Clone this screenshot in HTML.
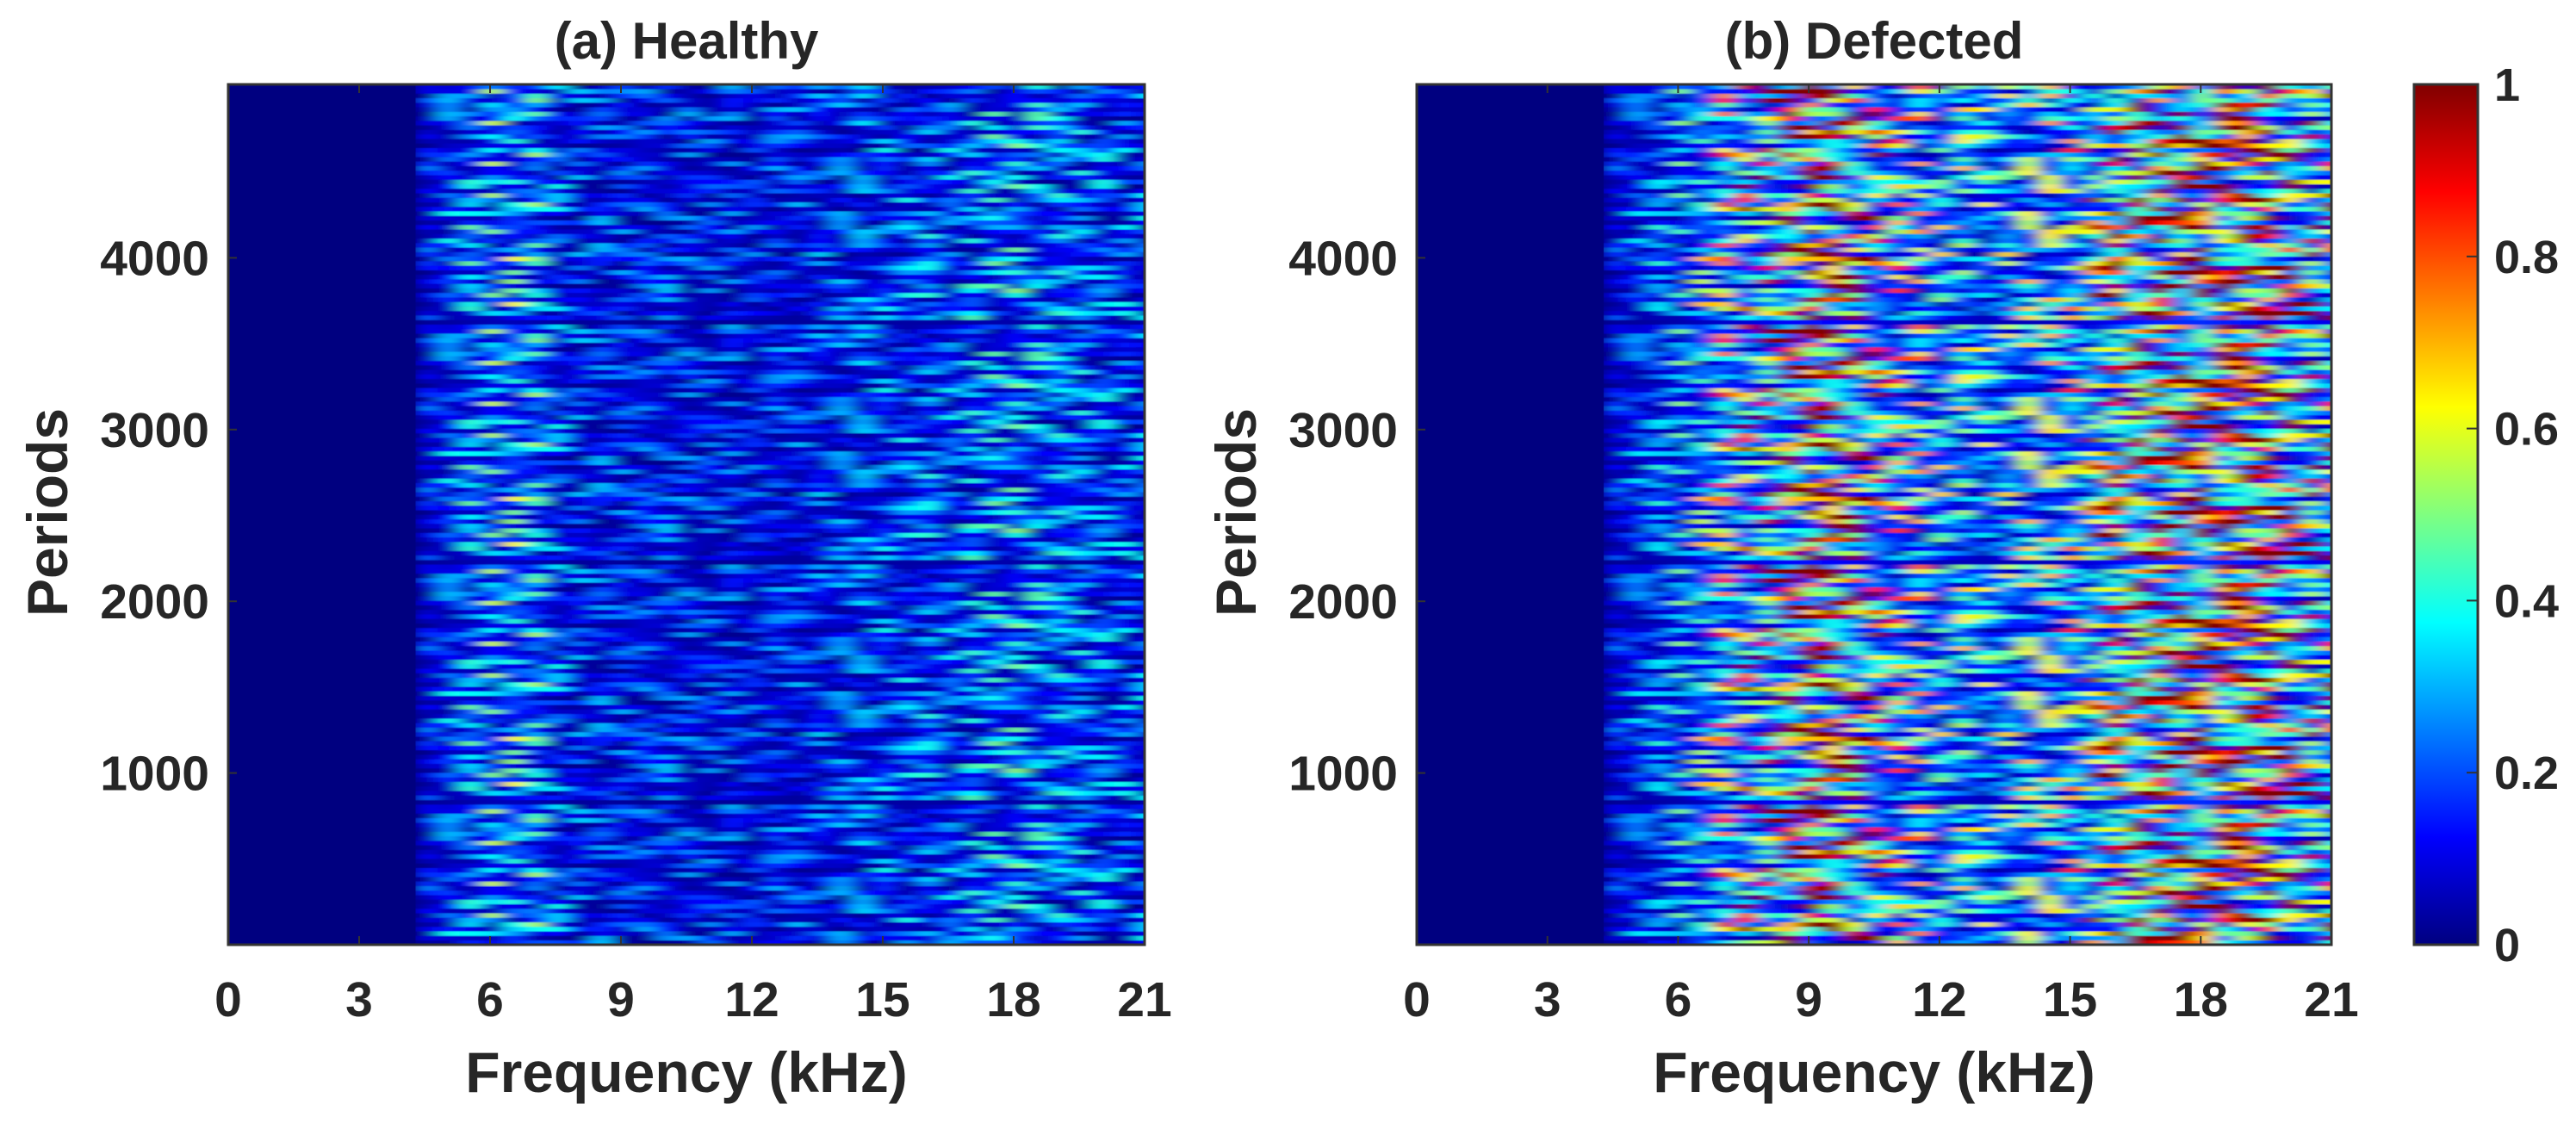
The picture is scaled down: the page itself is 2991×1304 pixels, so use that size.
<!DOCTYPE html>
<html><head><meta charset="utf-8"><style>
html,body{margin:0;padding:0;background:#fff;}
svg{display:block;font-family:"Liberation Sans",Arial,sans-serif;font-weight:bold;fill:#262626;}
</style></head><body>
<svg id="fig" width="2991" height="1304" viewBox="0 0 2991 1304" xmlns="http://www.w3.org/2000/svg">
<defs>
<filter id="hblur" x="0" y="0" width="1" height="1"><feGaussianBlur stdDeviation="10 0.5"/></filter>
<clipPath id="clipA"><rect x="265" y="98" width="1064" height="999"/></clipPath>
<clipPath id="clipB"><rect x="1645" y="98" width="1062" height="999"/></clipPath>
<linearGradient id="jet" x1="0" y1="1" x2="0" y2="0">
<stop offset="0" stop-color="#000080"/><stop offset="0.125" stop-color="#0000ff"/><stop offset="0.375" stop-color="#00ffff"/><stop offset="0.625" stop-color="#ffff00"/><stop offset="0.875" stop-color="#ff0000"/><stop offset="1" stop-color="#800000"/>
</linearGradient>
</defs>
<g id="panelA"></g>
<g id="panelB"></g>
<text x="797" y="68" font-size="60" text-anchor="middle">(a) Healthy</text>
<text x="2176" y="68" font-size="60" text-anchor="middle">(b) Defected</text>
<text x="797" y="1268" font-size="66" text-anchor="middle">Frequency (kHz)</text>
<text x="2176" y="1268" font-size="66" text-anchor="middle">Frequency (kHz)</text>
<text transform="translate(78,595) rotate(-90)" font-size="66" text-anchor="middle">Periods</text>
<text transform="translate(1458,595) rotate(-90)" font-size="66" text-anchor="middle">Periods</text>
<g>
<rect x="2803" y="98" width="74" height="999" fill="url(#jet)" stroke="#333" stroke-width="3"/>
<g id="cbticks"></g>
</g>
</svg>
<script>
const xTicks = [0, 3, 6, 9, 12, 15, 18, 21];
const yTicks = [1000, 2000, 3000, 4000];
const cbTicks = [0, 0.2, 0.4, 0.6, 0.8, 1];
const cbLabels = ["0", "0.2", "0.4", "0.6", "0.8", "1"];
const freqStart = 4.3;
const freqBin = 0.5;
const healthyColMean = [0.1,0.13,0.16,0.2,0.22,0.18,0.13,0.11,0.11,0.1,0.1,0.11,0.1,0.1,0.1,0.1,0.1,0.11,0.11,0.11,0.12,0.13,0.14,0.14,0.14,0.15,0.17,0.17,0.16,0.15,0.14,0.14,0.13,0.13];
const defectedColMean = [0.1,0.12,0.14,0.18,0.24,0.3,0.34,0.42,0.5,0.54,0.52,0.44,0.36,0.3,0.26,0.24,0.23,0.22,0.22,0.23,0.24,0.28,0.36,0.48,0.58,0.64,0.66,0.66,0.62,0.56,0.5,0.46,0.44,0.42];
const texture = [0.3,1.4,0.5,0.2,2.1,0.8,0.4,1.1,0.1,0.6,1.8,0.3,0.9,0.2,1.3,0.5,2.4,0.4,0.7,0.2,1.0,1.6,0.3,0.5,0.1,1.2,0.8,2.0,0.4,0.6,0.3,1.5,0.2,0.9,0.5,1.9,0.7,0.1,1.1,0.4,2.2,0.6,0.3,0.8,1.4,0.2,0.5,1.7,0.4,1.0,0.3,2.3,0.6];
const nRows = 190;
const yMax = 5010;

const NS = "http://www.w3.org/2000/svg";
function jet(v){
  v = Math.max(0, Math.min(1, v));
  const f = (a)=>Math.max(0, Math.min(1, 1.5 - Math.abs(4*v - a)));
  const r = f(3), g = f(2), b = f(1);
  return `rgb(${Math.round(r*255)},${Math.round(g*255)},${Math.round(b*255)})`;
}
function mk(tag, attrs){ const e = document.createElementNS(NS, tag); for (const k in attrs) e.setAttribute(k, attrs[k]); return e; }

function panel(gid, x0, w, colMean, clip, nm){
  const g = document.getElementById(gid);
  const y0 = 98, h = 999;
  const xs = f => x0 + f/21*w;
  const ys = p => y0 + h - p/yMax*h;
  g.appendChild(mk('rect', {x:x0, y:y0, width:w, height:h, fill:'#000080'}));
  const heat = mk('g', {'clip-path':`url(#${clip})`});
  
  
  const inner = mk('g', {filter:'url(#hblur)'});
  inner.appendChild(mk('rect', {x:xs(freqStart), y:y0, width:xs(21)-xs(freqStart)+20, height:h, fill:'#000080'}));
  const rowH = yMax / nRows;
  const L = texture.length;
  for (let r = 0; r < nRows; r++){
    for (let c = 0; c < colMean.length; c++){
      const f0 = freqStart + c*freqBin;
      const idx = (r*r*7 + c*13 + r*c*3 + r*11) % L;
      const v = colMean[c] * texture[idx] * 1.25;
      const cell = mk('rect', {x:xs(f0), y:ys((r+1)*rowH), width:xs(f0+freqBin)-xs(f0)+ (c==colMean.length-1?20:0.5), height:ys(r*rowH)-ys((r+1)*rowH)+0.3, fill:jet(v)});
      
      
      inner.appendChild(cell);
    }
  }
  heat.appendChild(inner);
  g.appendChild(heat);
  g.appendChild(mk('rect', {x:x0, y:y0, width:w, height:h, fill:'none', stroke:'#333', 'stroke-width':3}));
  xTicks.forEach(t => {
    g.appendChild(mk('line', {x1:xs(t), x2:xs(t), y1:y0+h, y2:y0+h-10, stroke:'#333','stroke-width':2}));
    g.appendChild(mk('line', {x1:xs(t), x2:xs(t), y1:y0, y2:y0+10, stroke:'#333','stroke-width':2}));
    const tx = mk('text', {x:xs(t), y:1180, 'font-size':57, 'text-anchor':'middle'});
    tx.textContent = t;
    
    
    g.appendChild(tx);
  });
  yTicks.forEach(t => {
    g.appendChild(mk('line', {x1:x0, x2:x0+10, y1:ys(t), y2:ys(t), stroke:'#333','stroke-width':2}));
    const tx = mk('text', {x:x0-22, y:ys(t)+20, 'font-size':57, 'text-anchor':'end'});
    tx.textContent = t;
    
    
    g.appendChild(tx);
  });
}
panel('panelA', 265, 1064, healthyColMean, 'clipA', 'healthy');
panel('panelB', 1645, 1062, defectedColMean, 'clipB', 'defected');

const cb = document.getElementById('cbticks');
cbTicks.forEach((t, i) => {
  const y = 1097 - t*999;
  cb.appendChild(mk('line', {x1:2864, x2:2877, y1:y, y2:y, stroke:'#333','stroke-width':2}));
  const tx = mk('text', {x:2896, y:y+19, 'font-size':54, 'text-anchor':'start'});
  tx.textContent = cbLabels[i];
  
  
  cb.appendChild(tx);
});
</script>
</body></html>
